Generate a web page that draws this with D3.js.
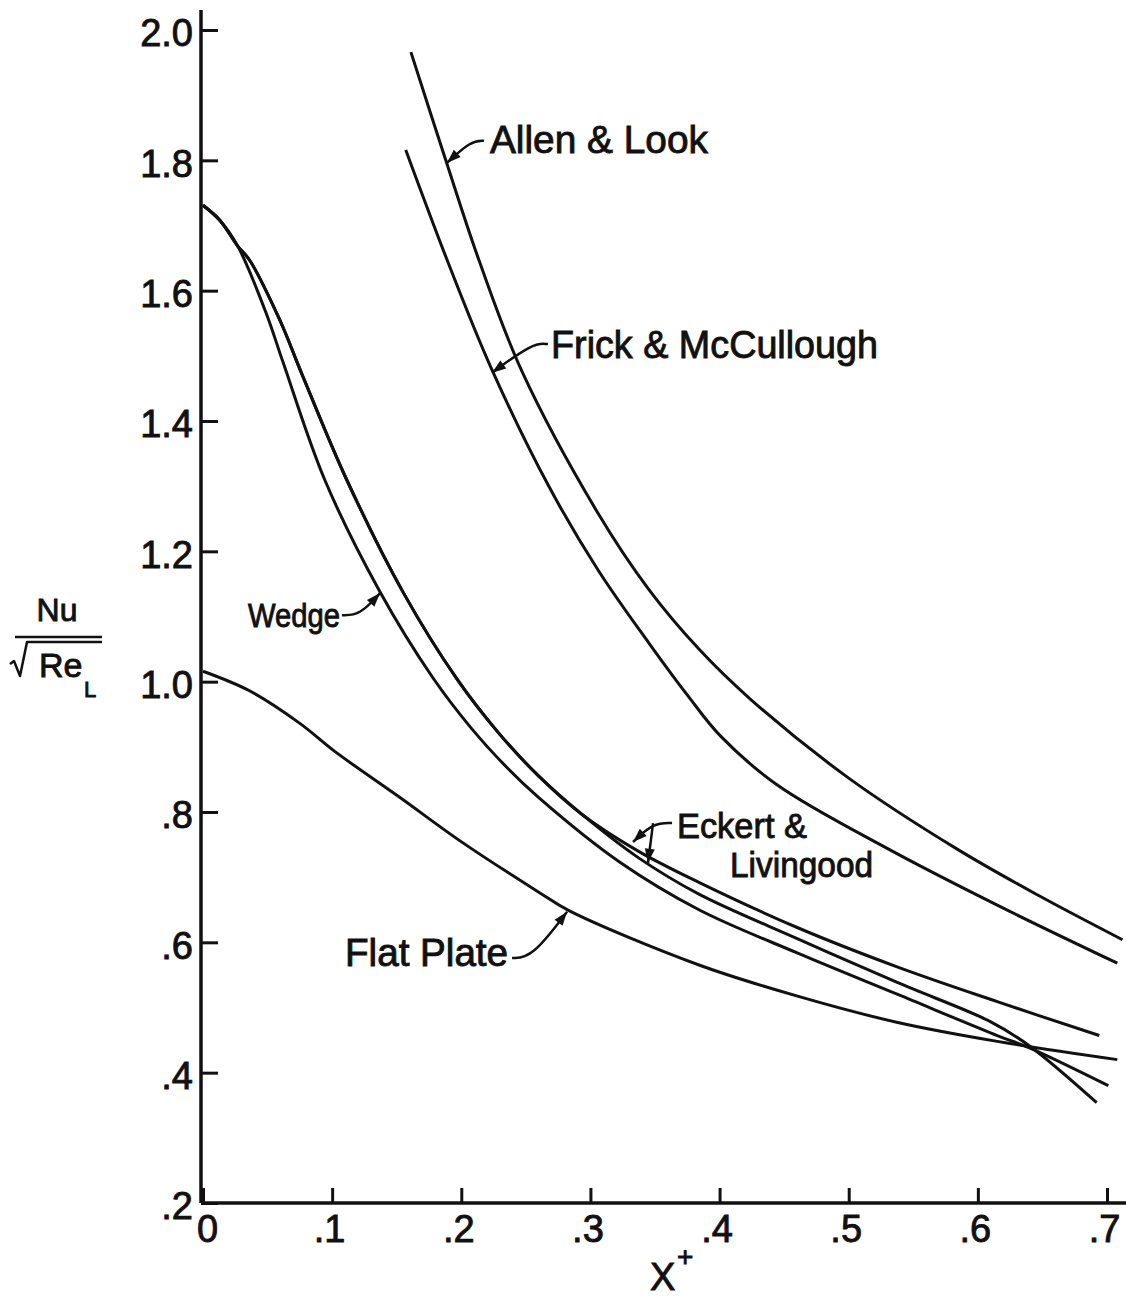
<!DOCTYPE html>
<html>
<head>
<meta charset="utf-8">
<script src="https://cdn.jsdelivr.net/npm/d3@7"></script>
<style>
	body { margin: 0; background: #fff; }
	text { font-family: "Liberation Sans", Arial, sans-serif; fill: #111; stroke: #111; stroke-width: 0.9; }
</style>
</head>
<body>
<svg id="chart" width="1126" height="1298"></svg>
<script>

// ticks
var xTicks = [0, 0.1, 0.2, 0.3, 0.4, 0.5, 0.6, 0.7];
var xTickLabels = ["0", ".1", ".2", ".3", ".4", ".5", ".6", ".7"];
var yTicks = [0.2, 0.4, 0.6, 0.8, 1.0, 1.2, 1.4, 1.6, 1.8, 2.0];
var yTickLabels = [".2", ".4", ".6", ".8", "1.0", "1.2", "1.4", "1.6", "1.8", "2.0"];

// curves (x+ , Nu/sqrt(Re_L))
var allenX = [0.161, 0.188, 0.214, 0.247, 0.306, 0.345, 0.384, 0.424, 0.5, 0.584, 0.646, 0.712];
var allenY = [1.966, 1.80, 1.645, 1.476, 1.258, 1.142, 1.05, 0.973, 0.852, 0.743, 0.673, 0.604];

var frickX = [0.157, 0.191, 0.223, 0.268, 0.306, 0.345, 0.376, 0.401, 0.445, 0.528, 0.615, 0.708];
var frickY = [1.816, 1.637, 1.482, 1.299, 1.171, 1.060, 0.977, 0.916, 0.841, 0.746, 0.657, 0.568];

var wedgeX = [0, 0.013, 0.027, 0.049, 0.062, 0.094, 0.137, 0.178, 0.208, 0.235, 0.26, 0.322, 0.384, 0.461, 0.538, 0.615, 0.64, 0.701];
var wedgeY = [1.731, 1.708, 1.668, 1.565, 1.49, 1.311, 1.138, 1.006, 0.928, 0.869, 0.822, 0.724, 0.650, 0.583, 0.520, 0.457, 0.438, 0.380];

var eckertUpperX = [0, 0.013, 0.027, 0.036, 0.059, 0.077, 0.111, 0.155, 0.197, 0.229, 0.26, 0.293, 0.337, 0.384, 0.461, 0.538, 0.615, 0.694];
var eckertUpperY = [1.731, 1.708, 1.668, 1.647, 1.557, 1.470, 1.311, 1.137, 1.003, 0.921, 0.855, 0.797, 0.740, 0.692, 0.622, 0.562, 0.509, 0.457];

var eckertLowerX = [0, 0.013, 0.027, 0.036, 0.059, 0.077, 0.111, 0.155, 0.197, 0.229, 0.26, 0.293, 0.337, 0.384, 0.461, 0.538, 0.61, 0.64, 0.692];
var eckertLowerY = [1.731, 1.708, 1.668, 1.647, 1.557, 1.470, 1.311, 1.137, 1.003, 0.921, 0.855, 0.797, 0.730, 0.674, 0.605, 0.538, 0.478, 0.441, 0.354];

var flatX = [0, 0.036, 0.075, 0.102, 0.152, 0.201, 0.26, 0.283, 0.383, 0.461, 0.538, 0.615, 0.708];
var flatY = [1.016, 0.986, 0.936, 0.893, 0.823, 0.753, 0.677, 0.649, 0.566, 0.517, 0.477, 0.448, 0.420];

var series = [
	{ name: "Allen & Look", xs: allenX, ys: allenY },
	{ name: "Frick & McCullough", xs: frickX, ys: frickY },
	{ name: "Wedge", xs: wedgeX, ys: wedgeY },
	{ name: "Eckert upper", xs: eckertUpperX, ys: eckertUpperY },
	{ name: "Eckert lower", xs: eckertLowerX, ys: eckertLowerY },
	{ name: "Flat Plate", xs: flatX, ys: flatY }
];

var svg = d3.select("#chart");
var ink = "#111";

var x = d3.scaleLinear().domain([0, 0.7]).range([203, 1107]);
var y = d3.scaleLinear().domain([0.2, 2.0]).range([1203, 30]);

// axes (ticks point inward, lines run past the last tick like the drawing)
var yAxis = svg.append("g")
	.attr("transform", "translate(201,0)")
	.call(d3.axisLeft(y).tickValues(yTicks).tickFormat(function(d, i) { return yTickLabels[i]; })
		.tickSize(-17).tickPadding(8).tickSizeOuter(0));

var xAxis = svg.append("g")
	.attr("transform", "translate(0,1203)")
	.call(d3.axisBottom(x).tickValues(xTicks).tickFormat(function(d, i) { return xTickLabels[i]; })
		.tickSize(-15).tickPadding(12).tickSizeOuter(0));

[yAxis, xAxis].forEach(function(g) {
	g.select(".domain").remove();
	g.attr("font-family", null).attr("font-size", 38);
	g.selectAll(".tick line").attr("stroke", ink).attr("stroke-width", 3);
});
yAxis.selectAll(".tick text").attr("dy", "0.42em");
xAxis.selectAll(".tick text").attr("dx", function(d) { return d === 0 ? 4 : -3; });

svg.append("line").attr("x1", 201).attr("x2", 201).attr("y1", 10).attr("y2", y(0.2))
	.attr("stroke", ink).attr("stroke-width", 3.5);
svg.append("line").attr("x1", 201).attr("x2", 1126).attr("y1", y(0.2)).attr("y2", y(0.2))
	.attr("stroke", ink).attr("stroke-width", 3.5);

// curves
var line = d3.line()
	.x(function(d) { return x(d[0]); })
	.y(function(d) { return y(d[1]); })
	.curve(d3.curveCatmullRom.alpha(0.5));

svg.append("g").selectAll("path")
	.data(series)
	.enter()
	.append("path")
	.attr("d", function(s) { return line(s.xs.map(function(v, i) { return [v, s.ys[i]]; })); })
	.attr("fill", "none")
	.attr("stroke", ink)
	.attr("stroke-width", 3)
	.attr("stroke-linejoin", "round");

// labels with hand-drawn leader arrows (positions in data units)
var labels = [
	{ lines: [{ t: "Allen & Look", at: [0.2222, 1.811], w: 218, fs: 38 }], leader: [[0.2176, 1.830], [0.2075, 1.830], [0.1889, 1.796]] },
	{ lines: [{ t: "Frick & McCullough", at: [0.2695, 1.497], w: 327, fs: 38 }], leader: [[0.2671, 1.518], [0.2555, 1.520], [0.2238, 1.474]] },
	{ lines: [{ t: "Wedge", at: [0.0348, 1.084], w: 92, fs: 33 }], leader: [[0.1076, 1.102], [0.1215, 1.102], [0.1371, 1.136]] },
	{ lines: [{ t: "Flat Plate", at: [0.1100, 0.564], w: 163, fs: 38 }], leader: [[0.2393, 0.576], [0.2545, 0.576], [0.2819, 0.647]] },
	{ lines: [{ t: "Eckert &", at: [0.3670, 0.760], w: 130, fs: 35 }, { t: "Livingood", at: [0.4081, 0.701], w: 143, fs: 35 }], leader: [[0.3632, 0.783], [0.3485, 0.783], [0.3330, 0.754]], extra: [[0.3485, 0.783], [0.3446, 0.722]] }
];

var leaderLine = d3.line()
	.x(function(d) { return x(d[0]); })
	.y(function(d) { return y(d[1]); })
	.curve(d3.curveBasis);

function arrowHead(from, to) {
	var x0 = x(from[0]), y0 = y(from[1]), x1 = x(to[0]), y1 = y(to[1]);
	var a = Math.atan2(y1 - y0, x1 - x0);
	var len = 14, half = 5;
	var bx = x1 - len * Math.cos(a), by = y1 - len * Math.sin(a);
	var pts = [[x1, y1], [bx + half * Math.sin(a), by - half * Math.cos(a)], [bx - half * Math.sin(a), by + half * Math.cos(a)]];
	svg.append("path").attr("d", "M" + pts.join("L") + "Z").attr("fill", ink);
}

labels.forEach(function(l) {
	l.lines.forEach(function(ln) {
		svg.append("text")
			.attr("x", x(ln.at[0]))
			.attr("y", y(ln.at[1]))
			.attr("font-size", ln.fs)
			.attr("textLength", ln.w)
			.attr("lengthAdjust", "spacingAndGlyphs")
			.text(ln.t);
	});
	svg.append("path").attr("d", leaderLine(l.leader))
		.attr("fill", "none").attr("stroke", ink).attr("stroke-width", 2.5);
	arrowHead(l.leader[l.leader.length - 2], l.leader[l.leader.length - 1]);
	if (l.extra) {
		svg.append("path").attr("d", leaderLine(l.extra))
			.attr("fill", "none").attr("stroke", ink).attr("stroke-width", 2.5);
		arrowHead(l.extra[0], l.extra[1]);
	}
});

// axis titles
svg.append("text").attr("x", 650).attr("y", 1290).attr("font-size", 38).text("X");
svg.append("text").attr("x", 677).attr("y", 1266).attr("font-size", 28).text("+");

svg.append("text").attr("x", 57).attr("y", 621).attr("text-anchor", "middle").attr("font-size", 32).text("Nu");
svg.append("line").attr("x1", 15).attr("x2", 102).attr("y1", 637).attr("y2", 637)
	.attr("stroke", ink).attr("stroke-width", 2.5);
svg.append("path").attr("d", "M10,664 L14,661 L20,676 L27,642 L102,642")
	.attr("fill", "none").attr("stroke", ink).attr("stroke-width", 2.5).attr("stroke-linejoin", "round");
svg.append("text").attr("x", 39).attr("y", 677).attr("font-size", 34).text("Re");
svg.append("text").attr("x", 84).attr("y", 697).attr("font-size", 22).text("L");

</script>
</body>
</html>
